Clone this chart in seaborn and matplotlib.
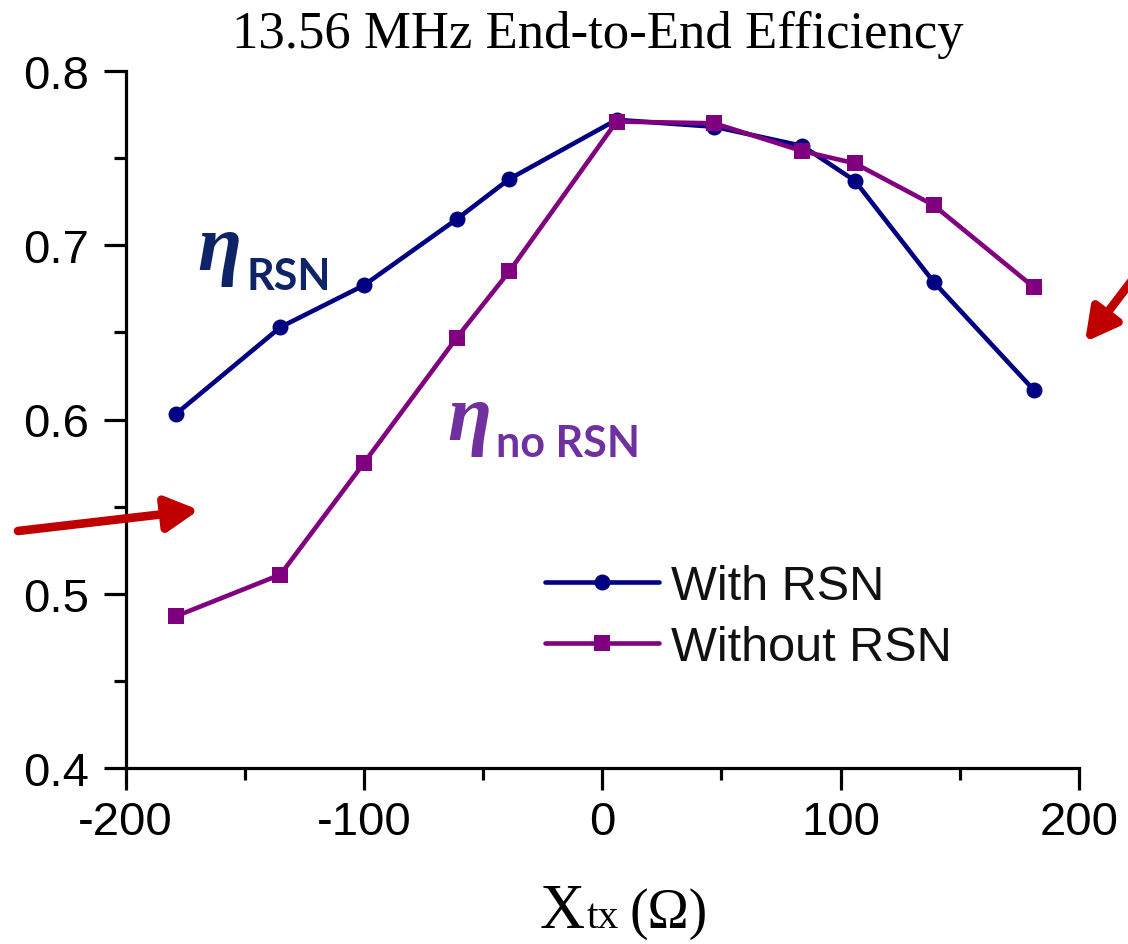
import matplotlib
matplotlib.use("Agg")
import matplotlib.pyplot as plt
import numpy as np
import pandas as pd
import seaborn as sns
from matplotlib.ticker import MultipleLocator
from matplotlib.patches import FancyArrowPatch

# ---- data ----
x_tx = [-179, -135, -100, -61, -39, 6, 47, 84, 106, 139, 181]
eta_with_rsn = [0.603, 0.653, 0.677, 0.715, 0.738, 0.772, 0.768, 0.757, 0.737, 0.679, 0.617]
eta_without_rsn = [0.487, 0.511, 0.575, 0.647, 0.685, 0.771, 0.770, 0.754, 0.747, 0.723, 0.676]
series_labels = ["With RSN", "Without RSN"]
x_ticks = [-200, -100, 0, 100, 200]
y_ticks = [0.4, 0.5, 0.6, 0.7, 0.8]
title_text = "13.56 MHz End-to-End Efficiency"

sns.set_theme(style="ticks")
plt.rcParams["font.family"] = ["Liberation Sans", "DejaVu Sans"]
plt.rcParams["axes.unicode_minus"] = False

W, H = 1128, 945
fig = plt.figure(figsize=(W / 100, H / 100), dpi=100)
fig.patch.set_facecolor("white")

def fx(px):
    return px / W

def fy(py):
    return 1 - py / H

ax = fig.add_axes([fx(125.5), fy(769), fx(1079) - fx(125.5), fy(72) - fy(769)])

df = pd.DataFrame({
    "x": x_tx + x_tx,
    "eta": eta_with_rsn + eta_without_rsn,
    "series": [series_labels[0]] * len(x_tx) + [series_labels[1]] * len(x_tx),
})

sns.lineplot(
    data=df, x="x", y="eta", hue="series", style="series",
    markers={series_labels[0]: "o", series_labels[1]: "s"},
    dashes=False,
    palette={series_labels[0]: "#000080", series_labels[1]: "#800080"},
    linewidth=3.3, markersize=11.5, markeredgewidth=0,
    sort=False, ax=ax,
)
for ln in ax.lines:
    ln.set_linewidth(3.3)
    ln.set_markeredgewidth(0)

ax.set_xlim(-200, 200)
ax.set_ylim(0.4, 0.8)
ax.set_xticks(x_ticks)
ax.set_xticklabels([str(v) for v in x_ticks])
ax.set_yticks(y_ticks)
ax.set_yticklabels([f"{v:.1f}" for v in y_ticks])
ax.xaxis.set_minor_locator(MultipleLocator(50))
ax.yaxis.set_minor_locator(MultipleLocator(0.05))
ax.set_xlabel("")
ax.set_ylabel("")
sns.despine(ax=ax)
for s in ["left", "bottom"]:
    ax.spines[s].set_linewidth(2.3)
    ax.spines[s].set_color("black")
ax.tick_params(which="major", direction="out", length=16, width=2.3, color="black",
               labelsize=34, labelcolor="black")
ax.tick_params(axis="x", which="major", pad=7)
ax.tick_params(axis="y", which="major", pad=10)
ax.tick_params(which="minor", direction="out", length=8.6, width=2.3, color="black")

# legend
handles, labels = ax.get_legend_handles_labels()
for h in handles:
    h.set_linewidth(3.3)
    h.set_markeredgewidth(0)
    h.set_markersize(11.5)
leg = ax.legend(handles=handles, labels=labels, loc="upper left",
                bbox_to_anchor=(fx(545), fy(565)), bbox_transform=fig.transFigure,
                frameon=False, fontsize=35, handlelength=2.35, handletextpad=0.25,
                labelspacing=0.33, borderpad=0, borderaxespad=0)
for t in leg.get_texts():
    t.set_color("#111111")

# title
fig.text(fx(598), fy(48), title_text, ha="center", va="baseline",
         family="Liberation Serif", fontsize=38, color="black")

# x label
fig.text(fx(540), fy(928), "X", ha="left", va="baseline",
         family="Liberation Serif", fontsize=45, color="black")
fig.text(fx(587), fy(928), "tx", ha="left", va="baseline",
         family="Liberation Serif", fontsize=30, color="black")
fig.text(fx(630), fy(928), "(\u03a9)", ha="left", va="baseline",
         family="Liberation Serif", fontsize=40, color="black")

# eta labels
navy = "#0f2466"
purple = "#7030a0"
fig.text(fx(197), fy(270), "\u03b7", ha="left", va="baseline",
         family="Liberation Serif", style="italic", weight="bold", fontsize=58, color=navy)
fig.text(fx(247), fy(290), "RSN", ha="left", va="baseline",
         family="Lato", weight="bold", fontsize=31, color=navy)
fig.text(fx(447), fy(440), "\u03b7", ha="left", va="baseline",
         family="Liberation Serif", style="italic", weight="bold", fontsize=58, color=purple)
fig.text(fx(496), fy(457), "no RSN", ha="left", va="baseline",
         family="Lato", weight="bold", fontsize=31, color=purple)

# red arrows
red = "#c00000"
for (xa, ya), (xb, yb) in [((18, 532), (199, 511)), ((1165, 238), (1085, 343))]:
    arr = FancyArrowPatch((fx(xa), fy(ya)), (fx(xb), fy(yb)), transform=fig.transFigure,
                          arrowstyle="-|>,head_length=1.3,head_width=0.7",
                          mutation_scale=15, lw=6.2, color=red,
                          shrinkA=0, shrinkB=0)
    fig.add_artist(arr)

fig.savefig("out.png", dpi=100, facecolor="white")
